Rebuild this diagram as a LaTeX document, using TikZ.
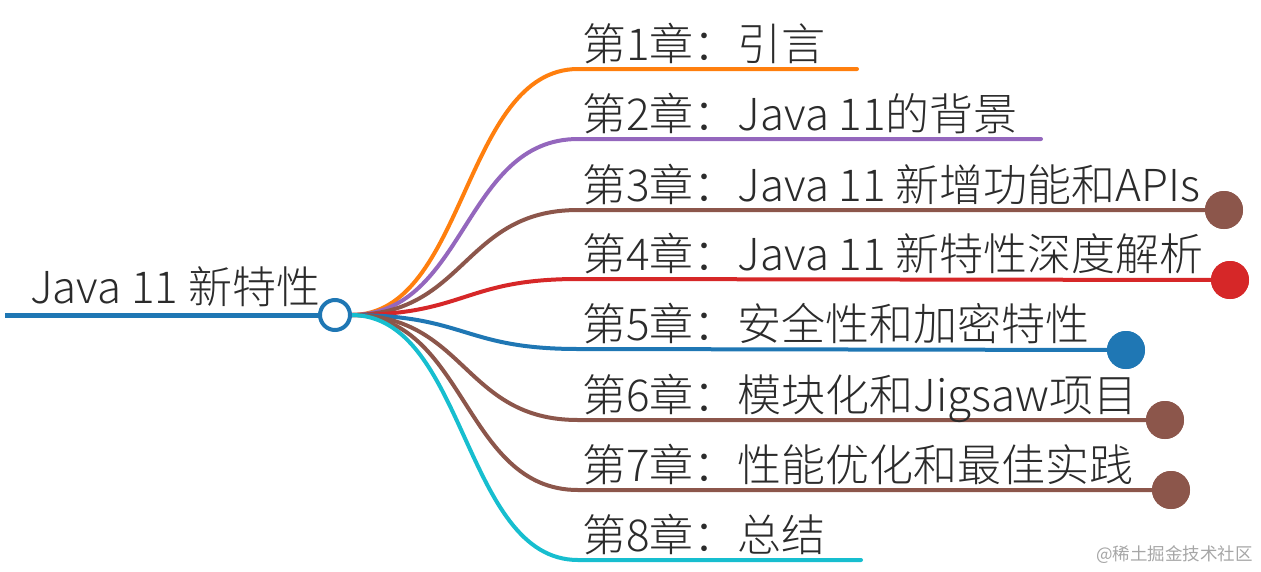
\documentclass[tikz,border=0pt]{standalone}
\usepackage{fontspec}
\newfontfamily\cjk{Noto Sans CJK SC}[UprightFont=* Light]
\newfontfamily\wmfont{Noto Sans CJK SC}
\definecolor{cOrange}{HTML}{FF7F0E}
\definecolor{cPurple}{HTML}{9467BD}
\definecolor{cBrown}{HTML}{8C564B}
\definecolor{cRed}{HTML}{D62728}
\definecolor{cBlue}{HTML}{1F77B4}
\definecolor{cCyan}{HTML}{17BECF}
\definecolor{cText}{HTML}{2B2B2B}
\tikzset{
  lab/.style={anchor=base west, inner sep=0pt, text=cText, font=\cjk\fontsize{44}{44}\selectfont},
  branch/.style={line width=4pt, line cap=round},
  enddot/.style={circle, inner sep=0pt, minimum size=38pt},
}
\begin{document}
\begin{tikzpicture}[x=1pt,y=-1pt]
\useasboundingbox (0,0) rectangle (1261,571);
% hub
\coordinate (rootstart) at (5,315);
\node[circle, minimum size=32pt, inner sep=0pt] (hub) at (335,315) {};
% branch start points of straight part
\coordinate (s1) at (578,69);
\coordinate (s2) at (578,139);
\coordinate (s3) at (578,210);
\coordinate (s4) at (578,279);
\coordinate (s5) at (578,349);
\coordinate (s6) at (578,420);
\coordinate (s7) at (578,490);
\coordinate (s8) at (578,560);
\coordinate (e1) at (857,69);
\coordinate (e2) at (1041,139);
\coordinate (e8) at (861,560);
\node[enddot, fill=cBrown] (d3) at (1224,210) {};
\node[enddot, fill=cRed] (d4) at (1230,280) {};
\node[enddot, fill=cBlue] (d5) at (1126,350) {};
\node[enddot, fill=cBrown] (d6) at (1165,420) {};
\node[enddot, fill=cBrown] (d7) at (1171,490) {};
% connectors
\draw[branch, cOrange] (hub.east) .. controls +(115,0) and +(-115,0) .. (s1) -- (e1);
\draw[branch, cPurple] (hub.east) .. controls +(115,0) and +(-115,0) .. (s2) -- (e2);
\draw[branch, cBrown] (hub.east) .. controls +(115,0) and +(-115,0) .. (s3) -- (d3.center);
\draw[branch, cRed] (hub.east) .. controls +(115,0) and +(-115,0) .. (s4) -- (d4.center);
\draw[branch, cBlue] (hub.east) .. controls +(115,0) and +(-115,0) .. (s5) -- (d5.center);
\draw[branch, cBrown] (hub.east) .. controls +(115,0) and +(-115,0) .. (s6) -- (d6.center);
\draw[branch, cBrown] (hub.east) .. controls +(115,0) and +(-115,0) .. (s7) -- (d7.center);
\draw[branch, cCyan] (hub.east) .. controls +(115,0) and +(-115,0) .. (s8) -- (e8);
% redraw dots on top
\fill[cBrown] (d3) circle (19pt);
\fill[cRed] (d4) circle (19pt);
\fill[cBlue] (d5) circle (19pt);
\fill[cBrown] (d6) circle (19pt);
\fill[cBrown] (d7) circle (19pt);
% root line and hub
\draw[line width=5pt, cBlue] (rootstart) -- (hub.west);
\draw[line width=4pt, cBlue, fill=white] (hub.center) circle (15pt);
% texts
\node[lab] (root) at (30,303) {Java 11 新特性};
\node[lab] (t1) at (582,60) {第1章：引言};
\node[lab] (t2) at (582,130) {第2章：Java 11的背景};
\node[lab] (t3) at (582,201) {第3章：Java 11 新增功能和APIs};
\node[lab] (t4) at (582,270) {第4章：Java 11 新特性深度解析};
\node[lab] (t5) at (582,340) {第5章：安全性和加密特性};
\node[lab] (t6) at (582,411) {第6章：模块化和Jigsaw项目};
\node[lab] (t7) at (582,481) {第7章：性能优化和最佳实践};
\node[lab] (t8) at (582,551) {第8章：总结};
\node[anchor=base east, inner sep=0pt, text=black!35, font=\wmfont\fontsize{17.5}{17.5}\selectfont] (wm) at (1253,560) {@稀土掘金技术社区};
\end{tikzpicture}
\end{document}
